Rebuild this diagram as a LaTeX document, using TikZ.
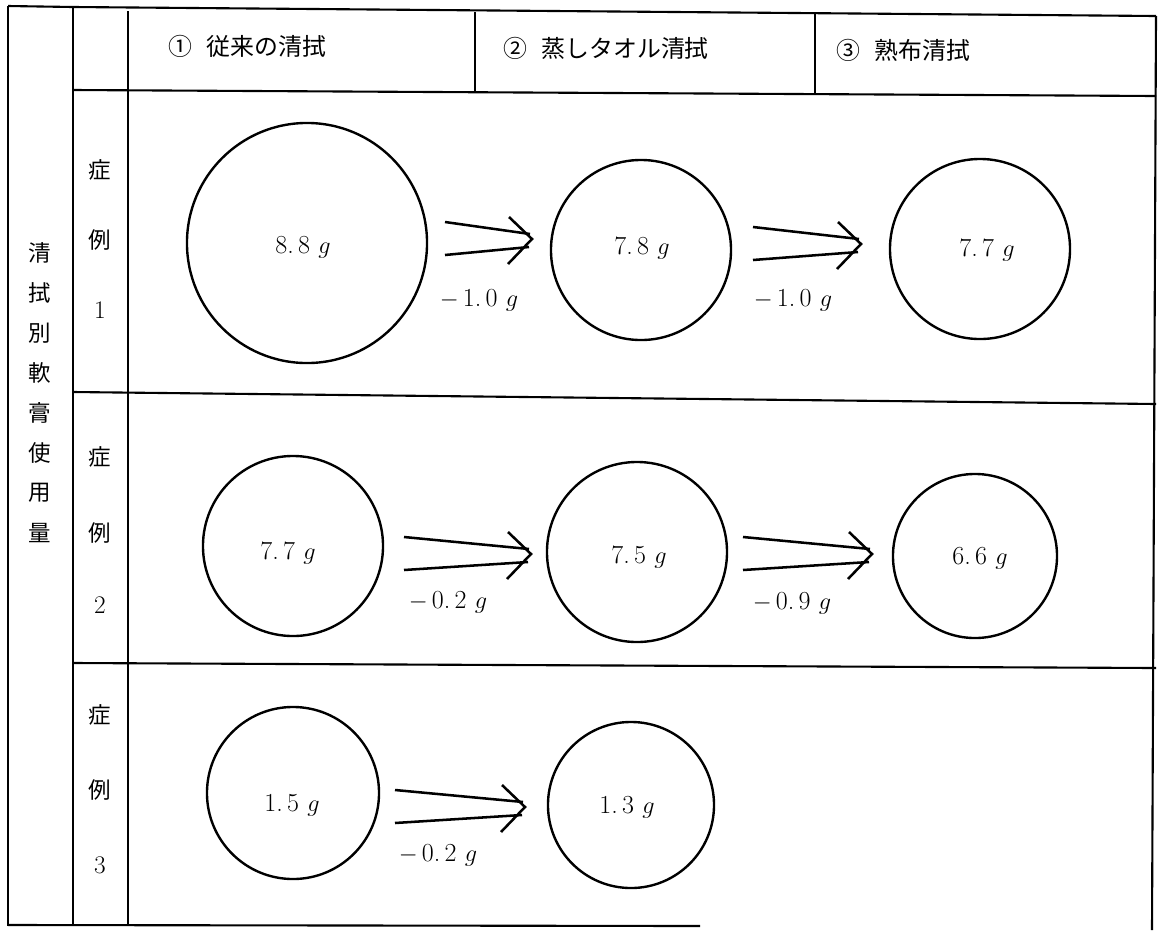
\documentclass[tikz,border=0pt]{standalone}
\usepackage{fontspec}
\newfontfamily\jp{Noto Sans CJK JP}
\usetikzlibrary{calc}
\tikzset{
  frame/.style={line width=1.5pt},
  amount/.style={circle, draw, line width=1.7pt, inner sep=0pt, minimum size=#1*0.05cm},
  val/.style={font=\fontsize{18.5}{20}\selectfont, inner sep=0pt},
  hdr/.style={font=\jp\fontsize{17}{19}\selectfont, anchor=west, inner sep=0pt},
  vch/.style={font=\jp\fontsize{16}{18}\selectfont, inner sep=0pt},
  vnum/.style={font=\fontsize{18}{20}\selectfont, inner sep=0pt},
  arr/.style={line width=1.8pt},
  dblarrow/.pic={
    \draw[arr] (-#1,-17) -- (-2,-5);
    \draw[arr] (-#1,16) -- (-3,8);
    \draw[arr] (-23,-22) -- (0,0) -- (-24,25);
  }
}
\newcommand{\gram}[2]{#1.\hspace{3pt}#2\hspace{6pt}$g$}
\newcommand{\loss}[2]{$-$\hspace{3pt}\gram{#1}{#2}}
\begin{document}
\begin{tikzpicture}[x=0.025cm, y=-0.025cm]
\useasboundingbox (0,0) rectangle (1160,930);
% table frame
\coordinate (tl) at (8,6);
\coordinate (bl) at (8,926);
\draw[frame] (tl) -- (bl);
\draw[frame] (8,6) -- (73,7) -- (1156,16);
\draw[frame] (73,7) -- (73,926);
\draw[frame] (128,11) -- (128,926);
\draw[frame] (1156,16) -- (1152,930);
\draw[frame] (475,12) -- (475,92);
\draw[frame] (815,14) -- (815,95);
\draw[frame] (73,90) -- (1156,96);
\draw[frame] (73,392) -- (1156,404);
\draw[frame] (73,663) -- (1156,668);
\draw[frame] (8,925) -- (700,926);
% header
\node[hdr] (h1) at (168,46) {①\hspace{0.6em}従来の清拭};
\node[hdr] (h2) at (503,48) {②\hspace{0.6em}蒸しタオル清拭};
\node[hdr] (h3) at (836,50) {③\hspace{0.6em}熟布清拭};
% left vertical title
\foreach \c [count=\i from 0] in {清,拭,別,軟,膏,使,用,量}
  \node[vch] (lt\i) at (40,253+40*\i) {\c};
% case labels
\node[vch] (s1a) at (100,170) {症};
\node[vch] (s1b) at (100,240) {例};
\node[vnum] (s1c) at (100,310) {1};
\node[vch] (s2a) at (100,457) {症};
\node[vch] (s2b) at (100,533) {例};
\node[vnum] (s2c) at (100,605) {2};
\node[vch] (s3a) at (100,715) {症};
\node[vch] (s3b) at (100,790) {例};
\node[vnum] (s3c) at (100,865) {3};
% circles
\node[amount=120] (c11) at (307,243) {};
\node[amount=90] (c12) at (641,250) {};
\node[amount=90] (c13) at (980,249) {};
\node[amount=90] (c21) at (293,546) {};
\node[amount=90] (c22) at (637,552) {};
\node[amount=82] (c23) at (975,556) {};
\node[amount=86] (c31) at (293,793) {};
\node[amount=83] (c32) at (631,805) {};
% values
\node[val] (v11) at (303,247) {\gram{8}{8}};
\node[val] (v12) at (642,248) {\gram{7}{8}};
\node[val] (v13) at (987,250) {\gram{7}{7}};
\node[val] (v21) at (288,553) {\gram{7}{7}};
\node[val] (v22) at (639,557) {\gram{7}{5}};
\node[val] (v23) at (980,558) {\gram{6}{6}};
\node[val] (v31) at (292,805) {\gram{1}{5}};
\node[val] (v32) at (627,807) {\gram{1}{3}};
% arrows
\coordinate (a1) at (532,239);
\coordinate (a2) at (861,244);
\coordinate (a3) at (531,554);
\coordinate (a4) at (872,554);
\coordinate (a5) at (525,807);
\pic at (a1) {dblarrow=87};
\pic at (a2) {dblarrow=108};
\pic at (a3) {dblarrow=127};
\pic at (a4) {dblarrow=129};
\pic at (a5) {dblarrow=130};
% differences
\node[val] (d1) at (479,300) {\loss{1}{0}};
\node[val] (d2) at (793,300) {\loss{1}{0}};
\node[val] (d3) at (448,602) {\loss{0}{2}};
\node[val] (d4) at (792,603) {\loss{0}{9}};
\node[val] (d5) at (438,855) {\loss{0}{2}};
\end{tikzpicture}
\end{document}
